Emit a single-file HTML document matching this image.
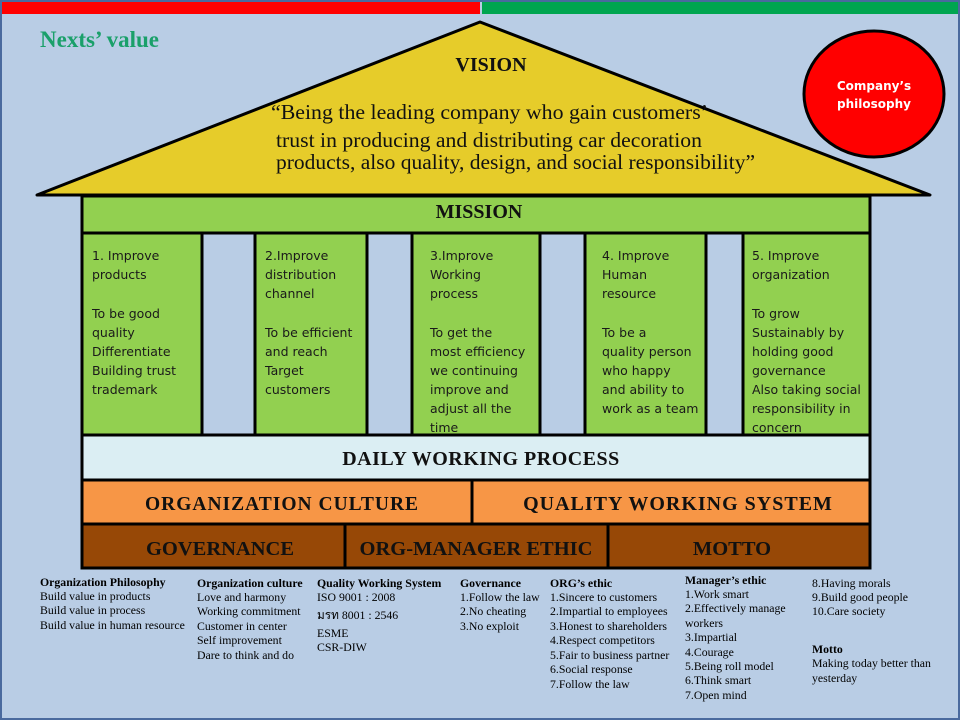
<!DOCTYPE html>
<html><head><meta charset="utf-8"><style>
html,body{margin:0;padding:0;background:#b9cde5}
svg{display:block}
.p{font-family:"DejaVu Sans","Liberation Sans",sans-serif;font-size:12.5px;fill:#1a1a1a}
.s{font-family:"Liberation Serif",serif;font-size:11.8px;fill:#000}
.sb{font-family:"Liberation Serif",serif;font-size:11.8px;font-weight:bold;fill:#000}
.h{font-family:"Liberation Serif",serif;font-weight:bold;fill:#111}
</style></head><body>
<svg width="960" height="720" viewBox="0 0 960 720" xmlns="http://www.w3.org/2000/svg">
<rect x="0" y="0" width="960" height="720" fill="#b9cde5"/>
<rect x="1" y="1" width="958" height="718" fill="none" stroke="#4a6a9e" stroke-width="2"/>
<rect x="2" y="2" width="478" height="12" fill="#ff0000"/>
<rect x="482" y="2" width="476" height="12" fill="#00a550"/>
<text x="40" y="47" font-family="Liberation Serif,serif" font-weight="bold" font-size="23" fill="#1aa06a">Nexts’ value</text>
<polygon points="37,195 480,22 930,195" fill="#e6cc2a" stroke="#000" stroke-width="3" stroke-linejoin="round"/>
<text x="491" y="71" class="h" font-size="20" text-anchor="middle" font-weight="normal">VISION</text>
<g font-family="Liberation Serif,serif" font-size="21.6" fill="#111">
<text x="271" y="119" textLength="437" lengthAdjust="spacingAndGlyphs">“Being the leading company who gain customers’</text>
<text x="276" y="147" textLength="426" lengthAdjust="spacingAndGlyphs">trust  in producing and distributing car decoration</text>
<text x="276" y="169" textLength="479" lengthAdjust="spacingAndGlyphs">products, also quality, design, and social responsibility”</text>
</g>
<ellipse cx="874" cy="94" rx="70" ry="63" fill="#ff0000" stroke="#000" stroke-width="3"/>
<text x="874" y="90" text-anchor="middle" font-family="DejaVu Sans,sans-serif" font-weight="bold" font-size="12" fill="#fff">Company’s</text>
<text x="874" y="108" text-anchor="middle" font-family="DejaVu Sans,sans-serif" font-weight="bold" font-size="12" fill="#fff">philosophy</text>
<g stroke="#000" stroke-width="3">
<rect x="82" y="196" width="788" height="37" fill="#92d050"/>
<rect x="82" y="233" width="120" height="202" fill="#92d050"/>
<rect x="202" y="233" width="53" height="202" fill="#b9cde5"/>
<rect x="255" y="233" width="112" height="202" fill="#92d050"/>
<rect x="367" y="233" width="45" height="202" fill="#b9cde5"/>
<rect x="412" y="233" width="128" height="202" fill="#92d050"/>
<rect x="540" y="233" width="45" height="202" fill="#b9cde5"/>
<rect x="585" y="233" width="121" height="202" fill="#92d050"/>
<rect x="706" y="233" width="37" height="202" fill="#b9cde5"/>
<rect x="743" y="233" width="127" height="202" fill="#92d050"/>
<rect x="82" y="435" width="788" height="45" fill="#dbeef3"/>
<rect x="82" y="480" width="390" height="44" fill="#f79646"/>
<rect x="472" y="480" width="398" height="44" fill="#f79646"/>
<rect x="82" y="524" width="263" height="44" fill="#974806"/>
<rect x="345" y="524" width="263" height="44" fill="#974806"/>
<rect x="608" y="524" width="262" height="44" fill="#974806"/>
</g>
<text x="479" y="218" class="h" font-size="20" text-anchor="middle">MISSION</text>
<text x="481" y="465" class="h" font-size="20" text-anchor="middle" font-weight="normal" letter-spacing="0.5">DAILY WORKING PROCESS</text>
<text x="282" y="510" class="h" font-size="19.5" text-anchor="middle" font-weight="normal" letter-spacing="1">ORGANIZATION  CULTURE</text>
<text x="678" y="510" class="h" font-size="20" text-anchor="middle" font-weight="normal" letter-spacing="1">QUALITY WORKING SYSTEM</text>
<text x="220" y="555" class="h" font-size="20.5" text-anchor="middle">GOVERNANCE</text>
<text x="476" y="555" class="h" font-size="20.5" text-anchor="middle">ORG-MANAGER ETHIC</text>
<text x="732" y="555" class="h" font-size="20.5" text-anchor="middle">MOTTO</text>
<g class="p">
<text x="92" y="260" class="p">1. Improve</text><text x="92" y="279" class="p">products</text>
<text x="92" y="318" class="p">To be good</text><text x="92" y="337" class="p">quality</text><text x="92" y="356" class="p">Differentiate</text><text x="92" y="375" class="p">Building trust</text><text x="92" y="394" class="p">trademark</text>
<text x="265" y="260" class="p">2.Improve</text><text x="265" y="279" class="p">distribution</text><text x="265" y="298" class="p">channel</text>
<text x="265" y="337" class="p">To be efficient</text><text x="265" y="356" class="p">and reach</text><text x="265" y="375" class="p">Target</text><text x="265" y="394" class="p">customers</text>
<text x="430" y="260" class="p">3.Improve</text><text x="430" y="279" class="p">Working</text><text x="430" y="298" class="p">process</text>
<text x="430" y="337" class="p">To get the</text><text x="430" y="356" class="p">most efficiency</text><text x="430" y="375" class="p">we continuing</text><text x="430" y="394" class="p">improve and</text><text x="430" y="413" class="p">adjust all the</text><text x="430" y="432" class="p">time</text>
<text x="602" y="260" class="p">4. Improve</text><text x="602" y="279" class="p">Human</text><text x="602" y="298" class="p">resource</text>
<text x="602" y="337" class="p">To be a</text><text x="602" y="356" class="p">quality person</text><text x="602" y="375" class="p">who happy</text><text x="602" y="394" class="p">and ability to</text><text x="602" y="413" class="p">work as a team</text>
<text x="752" y="260" class="p">5. Improve</text><text x="752" y="279" class="p">organization</text>
<text x="752" y="318" class="p">To grow</text><text x="752" y="337" class="p">Sustainably  by</text><text x="752" y="356" class="p">holding  good</text><text x="752" y="375" class="p">governance</text><text x="752" y="394" class="p">Also taking social</text><text x="752" y="413" class="p">responsibility in</text><text x="752" y="432" class="p">concern</text>
</g>
<text x="40" y="586" class="sb">Organization Philosophy</text>
<text x="40" y="600" class="s">Build value  in products</text>
<text x="40" y="614" class="s">Build value in process</text>
<text x="40" y="629" class="s">Build value in human resource</text>
<text x="197" y="587" class="sb">Organization culture</text>
<text x="197" y="601" class="s">Love and harmony</text>
<text x="197" y="615" class="s">Working commitment</text>
<text x="197" y="630" class="s">Customer in center</text>
<text x="197" y="644" class="s">Self improvement</text>
<text x="197" y="659" class="s">Dare to think and do</text>
<text x="317" y="587" class="sb">Quality Working System</text>
<text x="317" y="601" class="s">ISO 9001 : 2008</text>
<text x="317" y="619" class="s">มรท 8001 : 2546</text>
<text x="317" y="637" class="s">ESME</text>
<text x="317" y="651" class="s">CSR-DIW</text>
<text x="460" y="587" class="sb">Governance</text>
<text x="460" y="601" class="s">1.Follow the law</text>
<text x="460" y="615" class="s">2.No cheating</text>
<text x="460" y="630" class="s">3.No exploit</text>
<text x="550" y="587" class="sb">ORG’s ethic</text>
<text x="550" y="601" class="s">1.Sincere to customers</text>
<text x="550" y="615" class="s">2.Impartial to employees</text>
<text x="550" y="630" class="s">3.Honest to shareholders</text>
<text x="550" y="644" class="s">4.Respect competitors</text>
<text x="550" y="659" class="s">5.Fair to business partner</text>
<text x="550" y="673" class="s">6.Social response</text>
<text x="550" y="688" class="s">7.Follow the law</text>
<text x="685" y="584" class="sb">Manager’s ethic</text>
<text x="685" y="598" class="s">1.Work smart</text>
<text x="685" y="612" class="s">2.Effectively manage</text>
<text x="685" y="627" class="s">workers</text>
<text x="685" y="641" class="s">3.Impartial</text>
<text x="685" y="656" class="s">4.Courage</text>
<text x="685" y="670" class="s">5.Being roll model</text>
<text x="685" y="684" class="s">6.Think smart</text>
<text x="685" y="699" class="s">7.Open mind</text>
<text x="812" y="587" class="s">8.Having morals</text>
<text x="812" y="601" class="s">9.Build good people</text>
<text x="812" y="615" class="s">10.Care society</text>
<text x="812" y="653" class="sb">Motto</text>
<text x="812" y="667" class="s">Making today better than</text>
<text x="812" y="682" class="s">yesterday</text>
</svg>
</body></html>
